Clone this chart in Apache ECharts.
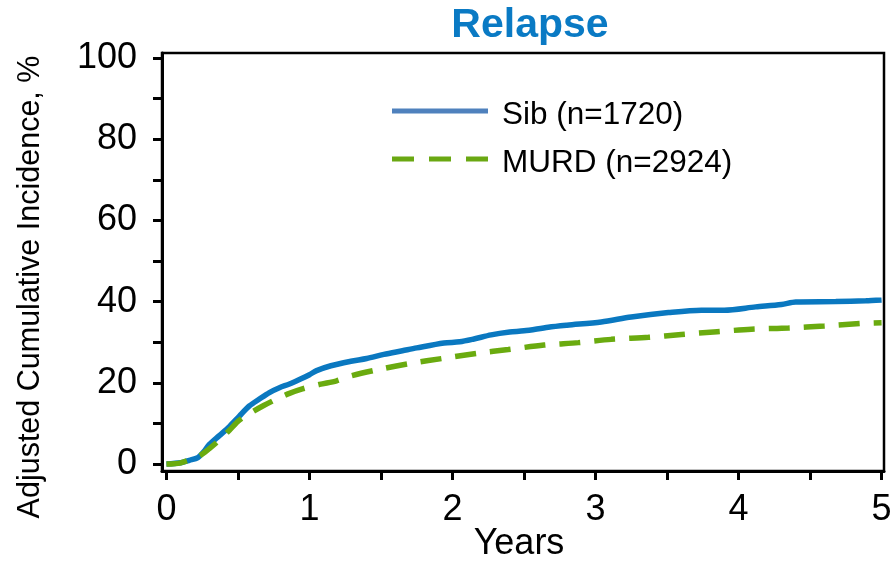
<!DOCTYPE html>
<html>
<head>
<meta charset="utf-8">
<script src="https://cdn.jsdelivr.net/npm/echarts@6/dist/echarts.min.js"></script>
<style>
  html, body { margin: 0; padding: 0; background: #ffffff; }
  #chart { width: 895px; height: 564px; }
</style>
</head>
<body>
<div id="chart"></div>
<script>
// Adjusted cumulative incidence of relapse (%) by years after transplant
const sibYears = [0, 0.1, 0.16, 0.22, 0.26, 0.3, 0.37, 0.44, 0.51, 0.58, 0.65, 0.72, 0.79, 0.86, 0.93, 1.0, 1.05, 1.15, 1.29, 1.4, 1.52, 1.65, 1.75, 1.94, 2.05, 2.15, 2.27, 2.4, 2.5, 2.67, 2.8, 3.04, 3.25, 3.51, 3.74, 3.9, 4.12, 4.3, 4.4, 4.68, 4.89, 5.0];
const sibValues = [0, 0.3, 0.9, 1.6, 3.0, 4.8, 7.0, 9.2, 11.8, 14.3, 16.0, 17.6, 18.8, 19.7, 20.8, 22.0, 23.0, 24.2, 25.3, 26.0, 27.0, 27.9, 28.6, 29.8, 30.1, 30.8, 31.8, 32.5, 32.8, 33.7, 34.2, 35.0, 36.2, 37.3, 37.9, 37.9, 38.7, 39.3, 39.9, 40.0, 40.2, 40.4];

const murdYears = [0, 0.1, 0.23, 0.3, 0.37, 0.44, 0.51, 0.6, 0.68, 0.77, 0.86, 0.95, 1.07, 1.19, 1.29, 1.5, 1.71, 1.93, 2.18, 2.39, 2.64, 2.88, 3.11, 3.37, 3.6, 3.85, 4.09, 4.35, 4.6, 4.85, 5.0];
const murdValues = [0, 0.3, 2.0, 3.8, 5.9, 8.3, 10.8, 12.8, 14.4, 16.0, 17.4, 18.5, 19.6, 20.5, 21.7, 23.4, 24.8, 26.0, 27.3, 28.2, 29.3, 29.9, 30.7, 31.2, 31.9, 32.6, 33.2, 33.5, 34.0, 34.6, 34.8];

const seriesNames = ['Sib (n=1720)', 'MURD (n=2924)'];
const xTickValues = [0, 0.5, 1, 1.5, 2, 2.5, 3, 3.5, 4, 4.5, 5];
const xLabelValues = [0, 1, 2, 3, 4, 5];
const yTickValues = [0, 10, 20, 30, 40, 50, 60, 70, 80, 90, 100];
const yLabelValues = [0, 20, 40, 60, 80, 100];

const pairs = (xs, ys) => xs.map((x, i) => [x, ys[i]]);

const FONT = 'Liberation Sans, Arial, sans-serif';
const SIB_COLOR = '#0a78c0';
const MURD_COLOR = '#6aab0f';
const SIB_KEY_COLOR = '#4f81bd';
const MURD_KEY_COLOR = '#6aa812';
const MURD_DASH = [21, 14];

// Key: a line sample followed by the group name, one row per series
function keyRow(name, color, dash, y) {
  return [
    {
      type: 'line',
      shape: { x1: 392, y1: y, x2: 488, y2: y },
      style: { stroke: color, lineWidth: 5, lineDash: dash || null }
    },
    {
      type: 'text',
      x: 502, y: y + 4,
      style: { text: name, fontFamily: FONT, fontSize: 31.5, fill: '#000', align: 'left', verticalAlign: 'middle' }
    }
  ];
}

const chart = echarts.init(document.getElementById('chart'), null, { renderer: 'canvas' });

chart.setOption({
  backgroundColor: '#ffffff',
  animation: false,
  title: {
    text: 'Relapse',
    left: 525,
    top: 0,
    textAlign: 'center',
    textStyle: { fontFamily: FONT, fontSize: 41, fontWeight: 'bold', color: '#0a7ac4' }
  },
  grid: {
    left: 162, right: 11, top: 53, bottom: 93,
    show: true, borderColor: '#000', borderWidth: 2.5, backgroundColor: 'transparent'
  },
  xAxis: {
    type: 'value',
    min: -0.031,
    max: 5.017,
    splitLine: { show: false },
    axisLine: { show: true, onZero: false, lineStyle: { color: '#000', width: 3 } },
    axisTick: { show: true, customValues: xTickValues, length: 9, lineStyle: { color: '#000', width: 3 } },
    axisLabel: { customValues: xLabelValues, margin: 21, fontFamily: FONT, fontSize: 36, color: '#000',
      showMinLabel: true, showMaxLabel: true }
  },
  yAxis: {
    type: 'value',
    min: -1.72,
    max: 101.23,
    splitLine: { show: false },
    axisLine: { show: true, onZero: false, lineStyle: { color: '#000', width: 3 } },
    axisTick: { show: true, customValues: yTickValues, length: 9, lineStyle: { color: '#000', width: 3 } },
    axisLabel: { customValues: yLabelValues, margin: 25, fontFamily: FONT, fontSize: 36, color: '#000' }
  },
  graphic: [
    {
      type: 'text',
      x: 31, y: 287,
      rotation: Math.PI / 2,
      style: {
        text: 'Adjusted Cumulative Incidence, %',
        fontFamily: FONT, fontSize: 30.5, fill: '#000',
        align: 'center', verticalAlign: 'middle'
      }
    },
    {
      type: 'text',
      x: 519, y: 544,
      style: {
        text: 'Years',
        fontFamily: FONT, fontSize: 36, fill: '#000',
        align: 'center', verticalAlign: 'middle'
      }
    },
    ...keyRow(seriesNames[0], SIB_KEY_COLOR, null, 111),
    ...keyRow(seriesNames[1], MURD_KEY_COLOR, [22, 15], 159)
  ],
  series: [
    {
      name: seriesNames[0],
      type: 'line',
      data: pairs(sibYears, sibValues),
      showSymbol: false,
      symbol: 'none',
      smooth: 0.3,
      z: 3,
      lineStyle: { color: SIB_COLOR, width: 5.5 },
      itemStyle: { color: SIB_COLOR }
    },
    {
      name: seriesNames[1],
      type: 'line',
      data: pairs(murdYears, murdValues),
      showSymbol: false,
      symbol: 'none',
      smooth: 0.3,
      z: 4,
      lineStyle: { color: MURD_COLOR, width: 5.5, type: MURD_DASH },
      itemStyle: { color: MURD_COLOR }
    }
  ]
});
</script>
</body>
</html>
